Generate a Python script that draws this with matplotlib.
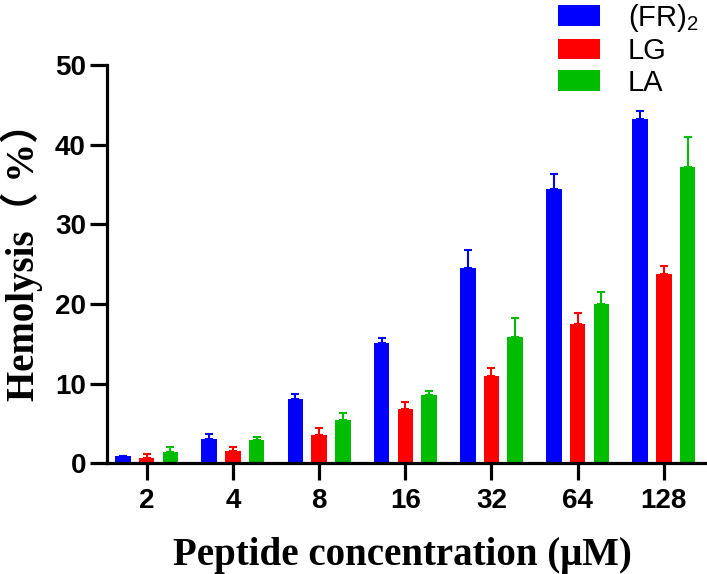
import numpy as np
import matplotlib.pyplot as plt

plt.rcParams['font.family'] = ['Liberation Sans']

# ---- data ----
groups = ['2', '4', '8', '16', '32', '64', '128']
series = ['$\\mathregular{(FR)_2}$', 'LG', 'LA']

fr2 = [0.85, 3.1, 8.1, 15.1, 24.5, 34.4, 43.2]
fr2_err = [0.1, 0.6, 0.6, 0.6, 2.3, 1.9, 1.05]
lg = [0.6, 1.55, 3.6, 6.8, 10.9, 17.5, 23.7]
lg_err = [0.55, 0.5, 0.85, 0.9, 1.05, 1.4, 1.0]
la = [1.4, 2.9, 5.4, 8.6, 15.8, 20.0, 37.2]
la_err = [0.6, 0.45, 0.85, 0.45, 2.4, 1.5, 3.7]

colors = ['#0000FF', '#FF0000', '#00BD00']

fig = plt.figure(figsize=(7.07, 5.74), dpi=100)
ax = fig.add_axes([0.151, 0.193, 0.849, 0.694])

x = np.arange(len(groups))
w = 0.18
offs = [-0.275, 0.0, 0.275]
for vals, errs, c, off, name in zip([fr2, lg, la], [fr2_err, lg_err, la_err], colors, offs, series):
    ax.bar(x + off, vals, w, color=c, label=name, zorder=2)
    ax.errorbar(x + off, vals, yerr=[np.zeros(len(errs)), errs], fmt='none',
                ecolor=c, elinewidth=1.5, capsize=2.6, capthick=1.5, zorder=3)

ax.set_xlim(-0.463, 6.5)
ax.set_ylim(0, 50)
ax.set_yticks([0, 10, 20, 30, 40, 50])
ax.set_xticks(x)
ax.set_xticklabels(groups)

for s in ['top', 'right']:
    ax.spines[s].set_visible(False)
for s in ['left', 'bottom']:
    ax.spines[s].set_linewidth(2.3)
ax.tick_params(axis='both', width=2.3, length=12, direction='out')
ax.tick_params(axis='x', pad=6)
ax.tick_params(axis='y', pad=3)

for lab in ax.get_xticklabels() + ax.get_yticklabels():
    lab.set_fontweight('bold')
    lab.set_fontsize(20)

serif = ['Liberation Serif', 'Noto Sans CJK SC']
ax.set_xlabel('Peptide concentration (μM)', family=serif, fontweight='bold', fontsize=28)
ax.xaxis.label.set_va('baseline')
ax.xaxis.set_label_coords(0.492, -0.256)
ax.set_ylabel('Hemolysis（ %）', family=serif, fontweight='bold', fontsize=28)
ax.yaxis.label.set_va('baseline')
ax.yaxis.set_label_coords(-0.121, 0.53)

fig.legend(loc='upper left', bbox_to_anchor=(0.789, 0.997), frameon=False, fontsize=21,
           handlelength=1.45, handleheight=0.72, handletextpad=0.95, labelspacing=0.12,
           borderpad=0, borderaxespad=0)

fig.savefig('out.png', dpi=100)
